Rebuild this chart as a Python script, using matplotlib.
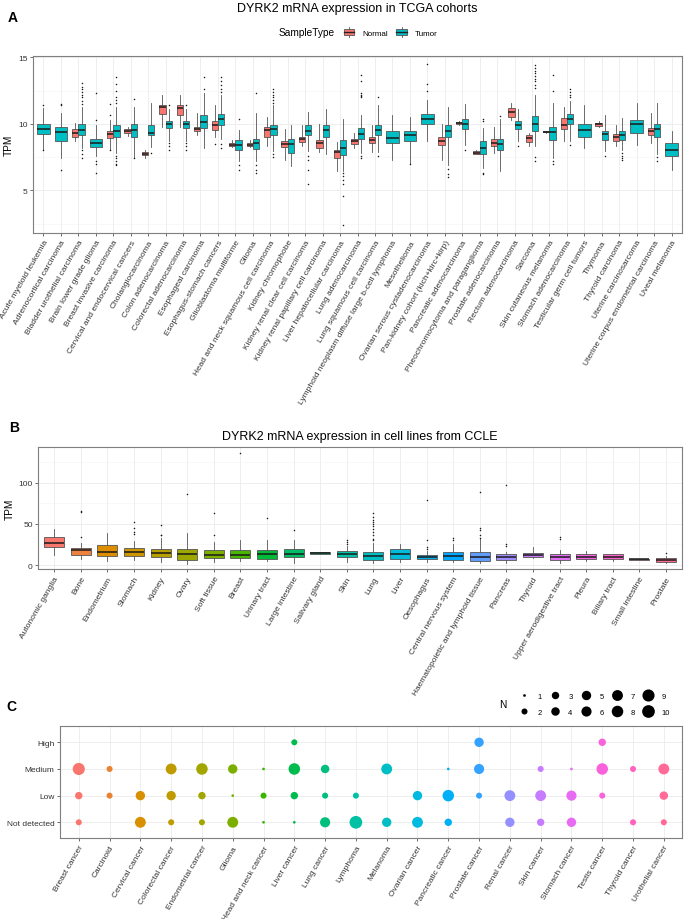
import numpy as np
import matplotlib
matplotlib.use("Agg")
import matplotlib.pyplot as plt
from matplotlib.patches import Rectangle, Patch
from matplotlib.lines import Line2D
from matplotlib.legend_handler import HandlerBase

plt.rcParams['font.family'] = ['Liberation Sans', 'DejaVu Sans']

# ---------------- data ----------------
# Panel A: TCGA cohorts, box stats as (whislo, q1, med, q3, whishi), None = no group
tcga_types = [
    'Acute myeloid leukemia', 'Adrenocortical carcinoma', 'Bladder urothelial carcinoma',
    'Brain lower grade glioma', 'Breast invasive carcinoma', 'Cervical and endocervical cancers',
    'Cholangiocarcinoma', 'Colon adenocarcinoma', 'Colorectal adenocarcinoma',
    'Esophageal carcinoma', 'Esophagus-stomach cancers', 'Glioblastoma multiforme', 'Glioma',
    'Head and neck squamous cell carcinoma', 'Kidney chromophobe',
    'Kidney renal clear cell carcinoma', 'Kidney renal papillary cell carcinoma',
    'Liver hepatocellular carcinoma', 'Lung adenocarcinoma', 'Lung squamous cell carcinoma',
    'Lymphoid neoplasm diffuse large b-cell lymphoma', 'Mesothelioma',
    'Ovarian serous cystadenocarcinoma', 'Pan-kidney cohort (kich+kirc+kirp)',
    'Pancreatic adenocarcinoma', 'Pheochromocytoma and paraganglioma',
    'Prostate adenocarcinoma', 'Rectum adenocarcinoma', 'Sarcoma', 'Skin cutaneous melanoma',
    'Stomach adenocarcinoma', 'Testicular germ cell tumors', 'Thymoma', 'Thyroid carcinoma',
    'Uterine carcinosarcoma', 'Uterine corpus endometrial carcinoma', 'Uveal melanoma']

tcga_normal = [
    None, None, (8.7, 9.05, 9.3, 9.63, 10.05), None, (8.05, 8.93, 9.23, 9.48, 10.3),
    (9.1, 9.3, 9.48, 9.6, 9.8), (7.45, 7.64, 7.76, 7.86, 8.05), (9.8, 10.72, 11.25, 11.42, 12.15),
    (9.8, 10.67, 11.2, 11.42, 12.15), (9.2, 9.48, 9.65, 9.78, 10.8),
    (9.05, 9.55, 9.93, 10.22, 11.4), (8.25, 8.3, 8.43, 8.56, 8.8), (8.25, 8.3, 8.43, 8.56, 8.8),
    (8.3, 9.05, 9.55, 9.8, 10.55), (7.3, 8.26, 8.5, 8.68, 9.63), (8.3, 8.63, 8.88, 9.05, 9.93),
    (7.9, 8.18, 8.56, 8.78, 10.0), (6.45, 7.44, 7.88, 8.05, 8.63), (8.2, 8.5, 8.68, 8.88, 9.3),
    (7.9, 8.6, 8.8, 9.0, 9.93), None, None, None, (7.3, 8.43, 8.73, 9.0, 10.0),
    (9.95, 10.0, 10.1, 10.17, 10.2), (7.7, 7.74, 7.83, 7.93, 8.05), (7.8, 8.3, 8.6, 8.86, 9.8),
    (10.3, 10.55, 10.87, 11.17, 11.6), (8.3, 8.63, 8.93, 9.18, 9.3),
    (9.35, 9.36, 9.4, 9.43, 9.45), (8.68, 9.6, 9.93, 10.42, 11.3), None,
    (9.8, 9.82, 9.98, 10.1, 10.2), (8.3, 8.73, 9.05, 9.23, 9.93), None,
    (8.6, 9.13, 9.43, 9.68, 10.8), None]
tcga_normal_out = [[], [], [], [], [11.5, 10.7, 8.0], [], [], [], [], [], [8.5], [], [], [], [], [],
                   [], [], [], [], [], [], [], [], [], [], [], [], [], [], [], [], [], [], [], [], []]

tcga_tumor = [
    (8.1, 9.25, 9.63, 10.0, 11.2), (7.45, 8.73, 9.4, 9.73, 10.8), (8.2, 9.13, 9.55, 10.0, 11.3),
    (7.55, 8.26, 8.6, 8.9, 9.9), (7.8, 8.98, 9.43, 9.88, 11.3), (7.5, 9.05, 9.55, 10.0, 11.3),
    (8.23, 9.18, 9.35, 9.88, 11.55), (8.7, 9.68, 10.0, 10.22, 11.15),
    (8.7, 9.66, 9.97, 10.22, 11.15), (8.2, 9.68, 10.17, 10.67, 12.3),
    (8.9, 9.93, 10.35, 10.72, 12.15), (7.2, 8.06, 8.43, 8.76, 9.55), (7.2, 8.13, 8.56, 8.88, 10.8),
    (7.93, 9.18, 9.6, 9.93, 11.4), (6.8, 7.8, 8.5, 8.88, 9.93), (7.95, 9.18, 9.48, 9.88, 10.9),
    (7.7, 8.98, 9.53, 9.93, 11.15), (6.45, 7.64, 8.18, 8.76, 10.4), (7.8, 8.88, 9.25, 9.68, 10.67),
    (7.9, 9.18, 9.55, 9.88, 11.4), (7.3, 8.53, 8.93, 9.48, 10.67), (7.06, 8.68, 9.13, 9.48, 10.55),
    (8.68, 9.98, 10.37, 10.72, 11.8), (6.94, 8.98, 9.48, 9.88, 11.3),
    (8.43, 9.63, 10.0, 10.37, 11.47), (6.7, 7.76, 8.18, 8.68, 9.68), (6.45, 8.06, 8.5, 8.88, 10.4),
    (8.7, 9.6, 9.93, 10.22, 11.1), (8.3, 9.43, 9.98, 10.6, 12.2), (7.44, 8.76, 9.38, 9.75, 11.55),
    (8.68, 9.98, 10.37, 10.72, 11.7), (8.18, 9.05, 9.55, 9.98, 11.4), (7.93, 8.8, 9.23, 9.48, 10.67),
    (8.0, 8.8, 9.18, 9.43, 10.42), (8.43, 9.33, 9.98, 10.32, 11.55), (7.7, 9.05, 9.6, 10.0, 11.55),
    (6.57, 7.6, 8.06, 8.53, 9.5)]
tcga_tumor_out = [
    [8.0, 11.4], [11.5, 11.4, 6.55],
    [13.1, 12.8, 12.6, 12.4, 12.2, 12.0, 11.7, 11.5, 8.0, 7.7, 7.4],
    [12.3, 10.3, 7.2, 7.0, 6.3],
    [13.5, 13.0, 12.5, 12.0, 11.8, 11.6, 7.6, 7.4, 7.2, 7.0, 6.9],
    [11.9, 7.4], [7.8], [11.4, 8.6, 8.3, 8.0], [11.4, 8.6, 8.3, 8.0], [13.5, 12.6],
    [13.5, 13.2, 12.9, 12.6, 12.4, 8.5, 8.2], [10.4, 6.9, 6.5], [12.3, 6.9, 6.5, 6.3],
    [12.6, 12.4, 12.2, 12.0, 11.8, 11.6, 7.7, 7.5], [], [7.6, 7.3, 6.5, 5.5], [],
    [6.3, 6.1, 5.8, 5.5, 4.6, 2.4], [13.65, 13.2, 12.3, 12.2, 12.1, 12.0, 7.6, 7.4], [12.0, 7.6],
    [], [7.0], [14.5, 13.0, 12.5], [6.6, 6.2, 6.0], [8.0], [10.4, 10.2, 6.3, 6.2], [10.6], [8.3],
    [14.4, 14.2, 14.0, 13.8, 13.6, 13.4, 13.2, 12.9, 12.7, 7.5, 7.2], [13.7, 12.5, 7.2, 7.0],
    [12.6, 12.4, 12.2, 12.0, 8.4], [], [7.6], [7.8, 7.6, 7.4, 7.3], [], [7.5, 7.2], []]

# Panel B: CCLE cell lines
ccle_types = ['Autonomic ganglia', 'Bone', 'Endometrium', 'Stomach', 'Kidney', 'Ovary',
              'Soft tissue', 'Breast', 'Urinary tract', 'Large intestine', 'Salivary gland',
              'Skin', 'Lung', 'Liver', 'Oesophagus', 'Central nervous system',
              'Haematopoietic and lymphoid tissue', 'Pancreas', 'Thyroid',
              'Upper aerodigestive tract', 'Pleura', 'Biliary tract', 'Small intestine', 'Prostate']
ccle_stats = [
    (12.4, 22.4, 26.4, 34, 44), (7.2, 12.8, 18, 20.8, 27), (5.2, 11.2, 16.4, 24, 39),
    (6, 11.2, 16, 20.4, 29), (4, 9.2, 15.2, 20, 33), (1.6, 6.4, 14, 20, 38.4),
    (4, 8, 12, 18.4, 28), (4.5, 8, 12.8, 18, 31), (5, 7.2, 14, 18, 31), (2, 10, 14, 19.2, 30),
    (13.2, 13.2, 14.4, 16, 16), (4, 9.2, 13.6, 16.8, 23), (2.4, 6.4, 11.2, 16.4, 27),
    (4, 7.6, 13.6, 19.6, 25), (4, 6.8, 9.2, 12.8, 17), (4, 6.4, 11.2, 15.6, 26),
    (2.4, 5.2, 9.2, 16.4, 32), (3, 6, 10, 13.6, 16), (8, 9.2, 12, 14.8, 21.6),
    (3, 6.4, 10, 14, 18), (5, 6.8, 10.4, 14, 17), (5, 7.2, 10.4, 13.2, 14),
    (6.4, 6.4, 7.2, 7.6, 7.6), (2.4, 3.2, 6, 8.8, 11)]
ccle_out = [[], [66, 64, 34], [], [52, 45, 40, 38], [49, 37, 36], [86], [63, 37], [136], [57],
            [43], [], [31, 28, 26], [63, 58, 55, 52, 50, 47, 44, 40, 36, 32, 30], [],
            [79, 31, 22, 20], [33, 31], [89, 45, 42, 36, 33], [97, 26, 23], [], [34, 32], [],
            [], [], [15]]

# Panel C: HPA pathology staining counts
hpa_types = ['Breast cancer', 'Carcinoid', 'Cervical cancer', 'Colorectal cancer',
             'Endometrial cancer', 'Glioma', 'Head and neck cancer', 'Liver cancer', 'Lung cancer',
             'Lymphoma', 'Melanoma', 'Ovarian cancer', 'Pancreatic cancer', 'Prostate cancer',
             'Renal cancer', 'Skin cancer', 'Stomach cancer', 'Testis cancer', 'Thyroid cancer',
             'Urothelial cancer']
levels = ['Not detected', 'Low', 'Medium', 'High']
n_not_detected = [2, 0, 7, 2, 2, 7, 1, 1, 6, 10, 5, 7, 3, 0, 5, 3, 5, 0, 2, 2]
n_low = [3, 2, 5, 5, 3, 1, 2, 3, 2, 2, 0, 5, 8, 2, 7, 7, 6, 2, 0, 4]
n_medium = [9, 2, 0, 7, 8, 5, 1, 8, 4, 0, 7, 0, 1, 6, 0, 2, 1, 8, 2, 7]
n_high = [0, 0, 0, 0, 0, 0, 0, 2, 0, 0, 0, 0, 0, 5, 0, 0, 0, 3, 0, 0]


# ---------------- helpers ----------------
def hue_pal(n, c=100, l=65):
    # ggplot2 default hue palette (HCL -> sRGB)
    hs = np.linspace(15, 375, n + 1)[:n]
    Xn, Yn, Zn = 95.047, 100.0, 108.883
    un = 4 * Xn / (Xn + 15 * Yn + 3 * Zn)
    vn = 9 * Yn / (Xn + 15 * Yn + 3 * Zn)
    out = []
    for h in hs:
        u = c * np.cos(np.deg2rad(h))
        v = c * np.sin(np.deg2rad(h))
        Y = Yn * ((l + 16) / 116) ** 3
        up = u / (13 * l) + un
        vp = v / (13 * l) + vn
        X = Y * 9 * up / (4 * vp)
        Z = Y * (12 - 3 * up - 20 * vp) / (4 * vp)
        X, Y, Z = X / 100, Y / 100, Z / 100
        rgb = [3.2404542 * X - 1.5371385 * Y - 0.4985314 * Z,
               -0.9692660 * X + 1.8760108 * Y + 0.0415560 * Z,
               0.0556434 * X - 0.2040259 * Y + 1.0572252 * Z]
        res = []
        for ch in rgb:
            ch = 12.92 * ch if ch <= 0.0031308 else 1.055 * ch ** (1 / 2.4) - 0.055
            res.append(min(max(ch, 0), 1))
        out.append(tuple(res))
    return out


def to_stats(s, fl):
    return dict(whislo=s[0], q1=s[1], med=s[2], q3=s[3], whishi=s[4], fliers=fl)


def style_ax(ax):
    for sp in ax.spines.values():
        sp.set_color('#7f7f7f')
        sp.set_linewidth(0.8)
    ax.set_axisbelow(True)
    ax.grid(which='major', color='#ebebeb', linewidth=0.6)
    ax.grid(which='minor', axis='y', color='#f4f4f4', linewidth=0.4)
    ax.tick_params(which='major', length=2.5, width=0.5, color='#333333', labelcolor='#333333',
                   labelsize=6, pad=1.5)
    ax.tick_params(which='minor', length=0)


class BoxKey(HandlerBase):
    def create_artists(self, legend, orig_handle, xdescent, ydescent, width, height,
                       fontsize, trans):
        x0, y0 = -xdescent, -ydescent
        fc = orig_handle.get_facecolor()
        rect = Rectangle((x0 + 0.1 * width, y0 + 0.2 * height), 0.8 * width, 0.6 * height,
                         facecolor=fc, edgecolor='#555555', lw=0.6, transform=trans)
        med = Line2D([x0 + 0.1 * width, x0 + 0.9 * width], [y0 + 0.5 * height] * 2,
                     color='#222222', lw=1.0, transform=trans)
        w1 = Line2D([x0 + 0.5 * width] * 2, [y0, y0 + 0.2 * height], color='#555555', lw=0.6,
                    transform=trans)
        w2 = Line2D([x0 + 0.5 * width] * 2, [y0 + 0.8 * height, y0 + height], color='#555555',
                    lw=0.6, transform=trans)
        return [rect, med, w1, w2]


W, H = 685, 920
fig = plt.figure(figsize=(W / 100, H / 100), dpi=100)

box_kw = dict(patch_artist=True, showcaps=False, manage_ticks=False,
              medianprops=dict(color='#1a1a1a', linewidth=1.1),
              whiskerprops=dict(color='#555555', linewidth=0.6),
              flierprops=dict(marker='o', markersize=1.1, markerfacecolor='#1a1a1a',
                              markeredgecolor='none'))

# ---------------- Panel A ----------------
axA = fig.add_axes([33 / W, 1 - 234 / H, (682 - 33) / W, (234 - 57) / H])
red, teal = hue_pal(2)
n_stats, n_pos, n_w, t_stats, t_pos, t_w = [], [], [], [], [], []
for i in range(len(tcga_types)):
    if tcga_normal[i] is not None:
        n_stats.append(to_stats(tcga_normal[i], tcga_normal_out[i]))
        n_pos.append(i - 0.18)
        n_w.append(0.36)
        t_pos.append(i + 0.18)
        t_w.append(0.36)
    else:
        t_pos.append(i)
        t_w.append(0.72)
    t_stats.append(to_stats(tcga_tumor[i], tcga_tumor_out[i]))
axA.bxp(n_stats, positions=n_pos, widths=n_w,
        boxprops=dict(facecolor=red, edgecolor='#555555', linewidth=0.6), **box_kw)
axA.bxp(t_stats, positions=t_pos, widths=t_w,
        boxprops=dict(facecolor=teal, edgecolor='#555555', linewidth=0.6), **box_kw)
axA.set_xlim(-0.6, len(tcga_types) - 0.4)
axA.set_ylim(1.8, 15.1)
axA.set_yticks([5, 10, 15])
axA.set_yticks([2.5, 7.5, 12.5], minor=True)
axA.set_xticks(range(len(tcga_types)))
axA.set_xticklabels(tcga_types, rotation=60, ha='right', rotation_mode='anchor', fontsize=5.8)
style_ax(axA)
axA.set_ylabel('TPM', fontsize=7.3, labelpad=3)

fig.text(8 / W, 1 - 21.7 / H, 'A', fontsize=10, fontweight='bold', va='baseline')
fig.text(357.5 / W, 1 - 11.7 / H, 'DYRK2 mRNA expression in TCGA cohorts', fontsize=9,
         ha='center', va='baseline')
fig.text(335 / W, 1 - 33 / H, 'SampleType', fontsize=7.3, ha='right', va='center')
fig.legend(handles=[Patch(facecolor=red), Patch(facecolor=teal)], labels=['Normal', 'Tumor'],
           handler_map={Patch: BoxKey()}, ncol=2, loc='center', bbox_to_anchor=(390 / W, 1 - 33 / H),
           frameon=False, fontsize=5.8, handlelength=1.6, handleheight=1.4, handletextpad=0.8,
           columnspacing=0.9, borderpad=0, borderaxespad=0)

# ---------------- Panel B ----------------
axB = fig.add_axes([38.3 / W, 1 - 570.3 / H, (682 - 38.3) / W, (570.3 - 448.3) / H])
cols_b = hue_pal(len(ccle_types))
bpB = axB.bxp([to_stats(s, o) for s, o in zip(ccle_stats, ccle_out)],
              positions=range(len(ccle_types)), widths=0.75,
              boxprops=dict(edgecolor='#555555', linewidth=0.6), **box_kw)
for patch, c in zip(bpB['boxes'], cols_b):
    patch.set_facecolor(c)
axB.set_xlim(-0.6, len(ccle_types) - 0.4)
axB.set_ylim(-5.1, 142.7)
axB.set_yticks([0, 50, 100])
axB.set_yticks([25, 75, 125], minor=True)
axB.set_xticks(range(len(ccle_types)))
axB.set_xticklabels(ccle_types, rotation=60, ha='right', rotation_mode='anchor', fontsize=6)
style_ax(axB)
axB.set_ylabel('TPM', fontsize=7.3, labelpad=3)

fig.text(9.3 / W, 1 - 431.7 / H, 'B', fontsize=10, fontweight='bold', va='baseline')
fig.text(360 / W, 1 - 440 / H, 'DYRK2 mRNA expression in cell lines from CCLE', fontsize=9,
         ha='center', va='baseline')

# ---------------- Panel C ----------------
axC = fig.add_axes([60.3 / W, 1 - 839.3 / H, (682.3 - 60.3) / W, (839.3 - 727.3) / H])
cols_c = hue_pal(len(hpa_types))


def dot_size(n):
    d_px = 2.7 + 10 * np.sqrt((np.asarray(n, dtype=float) - 1) / 9)
    return (d_px * 0.72) ** 2


for lev, counts in enumerate([n_not_detected, n_low, n_medium, n_high]):
    for i, n in enumerate(counts):
        if n > 0:
            axC.scatter(i, lev, s=dot_size(n), color=cols_c[i], edgecolors='none', zorder=3)
axC.set_xlim(-0.6, len(hpa_types) - 0.4)
axC.set_ylim(-0.6, 3.6)
axC.set_yticks(range(len(levels)))
axC.set_yticklabels(levels, fontsize=6.3)
axC.set_xticks(range(len(hpa_types)))
axC.set_xticklabels(hpa_types, rotation=60, ha='right', rotation_mode='anchor', fontsize=6)
style_ax(axC)

fig.text(6.7 / W, 1 - 710.7 / H, 'C', fontsize=10, fontweight='bold', va='baseline')
size_vals = list(range(1, 11))
handles = [Line2D([], [], linestyle='none', marker='o', color='black', markeredgecolor='none',
                  markersize=np.sqrt(dot_size(v))) for v in size_vals]
fig.legend(handles=handles, labels=[str(v) for v in size_vals], ncol=5, loc='center',
           bbox_to_anchor=(594 / W, 1 - 705 / H), frameon=False, fontsize=5.5,
           handlelength=1.6, handletextpad=0.9, columnspacing=1.0, labelspacing=1.1,
           borderpad=0, borderaxespad=0)
fig.text(503 / W, 1 - 705 / H, 'N', fontsize=7.3, ha='center', va='center')

fig.savefig('out.png', dpi=100)
